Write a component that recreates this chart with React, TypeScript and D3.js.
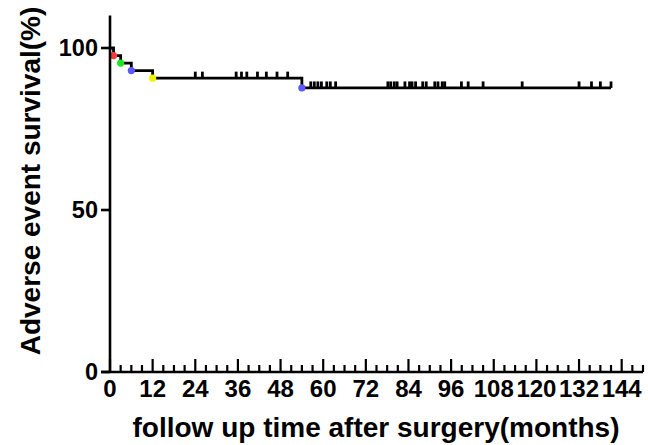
import React from 'react';
import * as d3 from 'd3';

// patients in the cohort
const nPatients = 43;
// months of adverse events and their marker colours
const eventMonths = [1, 3, 6, 12, 54];
const eventColors = ['#ff3b3b', '#1ee61e', '#5a5aff', '#f2f200', '#5a5aff'];
// months of censored follow up
const censorMonths = [
  24, 26, 35.5, 37, 38.5, 41.5, 44, 47, 50,
  56.5, 57.5, 58.5, 59.5, 61, 62, 63.5, 78.2, 79, 80, 80.8, 83, 84.3, 85, 86,
  88, 89, 91.4, 92.3, 93.5, 94.2, 98.9, 100.8, 105, 116, 132, 135.5, 138, 141,
];
const xTicks = [0, 12, 24, 36, 48, 60, 72, 84, 96, 108, 120, 132, 144];
const xMinorTicks = d3.range(0, 151, 3);
const yTicks = [0, 50, 100];

const W = 648;
const H = 445;
const FONT = 'Arial, "Liberation Sans", Helvetica, sans-serif';

export default function App() {
  const x = d3.scaleLinear().domain([0, 150]).range([110, 643]);
  const y = d3.scaleLinear().domain([0, 110]).range([372, 15.6]);

  // Kaplan-Meier estimate
  const all = [
    ...eventMonths.map((t, i) => ({ t, ev: true, i })),
    ...censorMonths.map((t) => ({ t, ev: false, i: -1 })),
  ].sort((a, b) => a.t - b.t || (a.ev ? -1 : 1));
  let atRisk = nPatients;
  let s = 100;
  const steps: [number, number][] = [[0, 100]];
  const dots: { t: number; s: number; c: string }[] = [];
  const censors: { t: number; s: number }[] = [];
  all.forEach((d) => {
    if (d.ev) {
      steps.push([d.t, s]);
      s = (s * (atRisk - 1)) / atRisk;
      steps.push([d.t, s]);
      dots.push({ t: d.t, s, c: eventColors[d.i] });
    } else {
      censors.push({ t: d.t, s });
    }
    atRisk--;
  });
  steps.push([d3.max(censorMonths) as number, s]);

  const line = d3
    .line<[number, number]>()
    .x((d) => x(d[0]))
    .y((d) => y(d[1]));

  return (
    <svg width={W} height={H} style={{ position: 'absolute', left: 0, top: 0, background: '#fff' }}>
      {/* curve */}
      <path d={line(steps) || ''} fill="none" stroke="#000" strokeWidth={2.8} />
      {censors.map((c, i) => (
        <line key={'c' + i} x1={x(c.t)} x2={x(c.t)} y1={y(c.s)} y2={y(c.s) - 6.5} stroke="#000" strokeWidth={2.8} />
      ))}
      {dots.map((d, i) => (
        <circle key={'d' + i} cx={x(d.t)} cy={y(d.s)} r={3.6} fill={d.c} />
      ))}

      {/* y axis */}
      <line x1={x(0)} x2={x(0)} y1={y(110)} y2={y(0) + 1} stroke="#000" strokeWidth={2.6} />
      {yTicks.map((t) => (
        <g key={'y' + t}>
          <line x1={x(0) - 9} x2={x(0)} y1={y(t)} y2={y(t)} stroke="#000" strokeWidth={2.6} />
          <text x={x(0) - 12} y={y(t)} dy="0.36em" textAnchor="end" fontFamily={FONT} fontWeight="bold" fontSize={23.5}>
            {t}
          </text>
        </g>
      ))}

      {/* x axis */}
      <line x1={x(0) - 9} x2={x(150)} y1={y(0)} y2={y(0)} stroke="#000" strokeWidth={2.6} />
      {xMinorTicks.map((t) => (
        <line key={'m' + t} x1={x(t)} x2={x(t)} y1={y(0)} y2={y(0) - (t % 12 === 0 ? 13 : 7)} stroke="#000" strokeWidth={2.2} />
      ))}
      {xTicks.map((t) => (
        <text key={'x' + t} x={x(t)} y={397} textAnchor="middle" fontFamily={FONT} fontWeight="bold" fontSize={24}>
          {t}
        </text>
      ))}

      {/* titles */}
      <text x={376} y={437} textAnchor="middle" fontFamily={FONT} fontWeight="bold" fontSize={28}>
        follow up time after surgery(months)
      </text>
      <text
        transform={`translate(40,181) rotate(-90)`}
        textAnchor="middle"
        fontFamily={FONT}
        fontWeight="bold"
        fontSize={28}
      >
        Adverse event survival(%)
      </text>
    </svg>
  );
}
